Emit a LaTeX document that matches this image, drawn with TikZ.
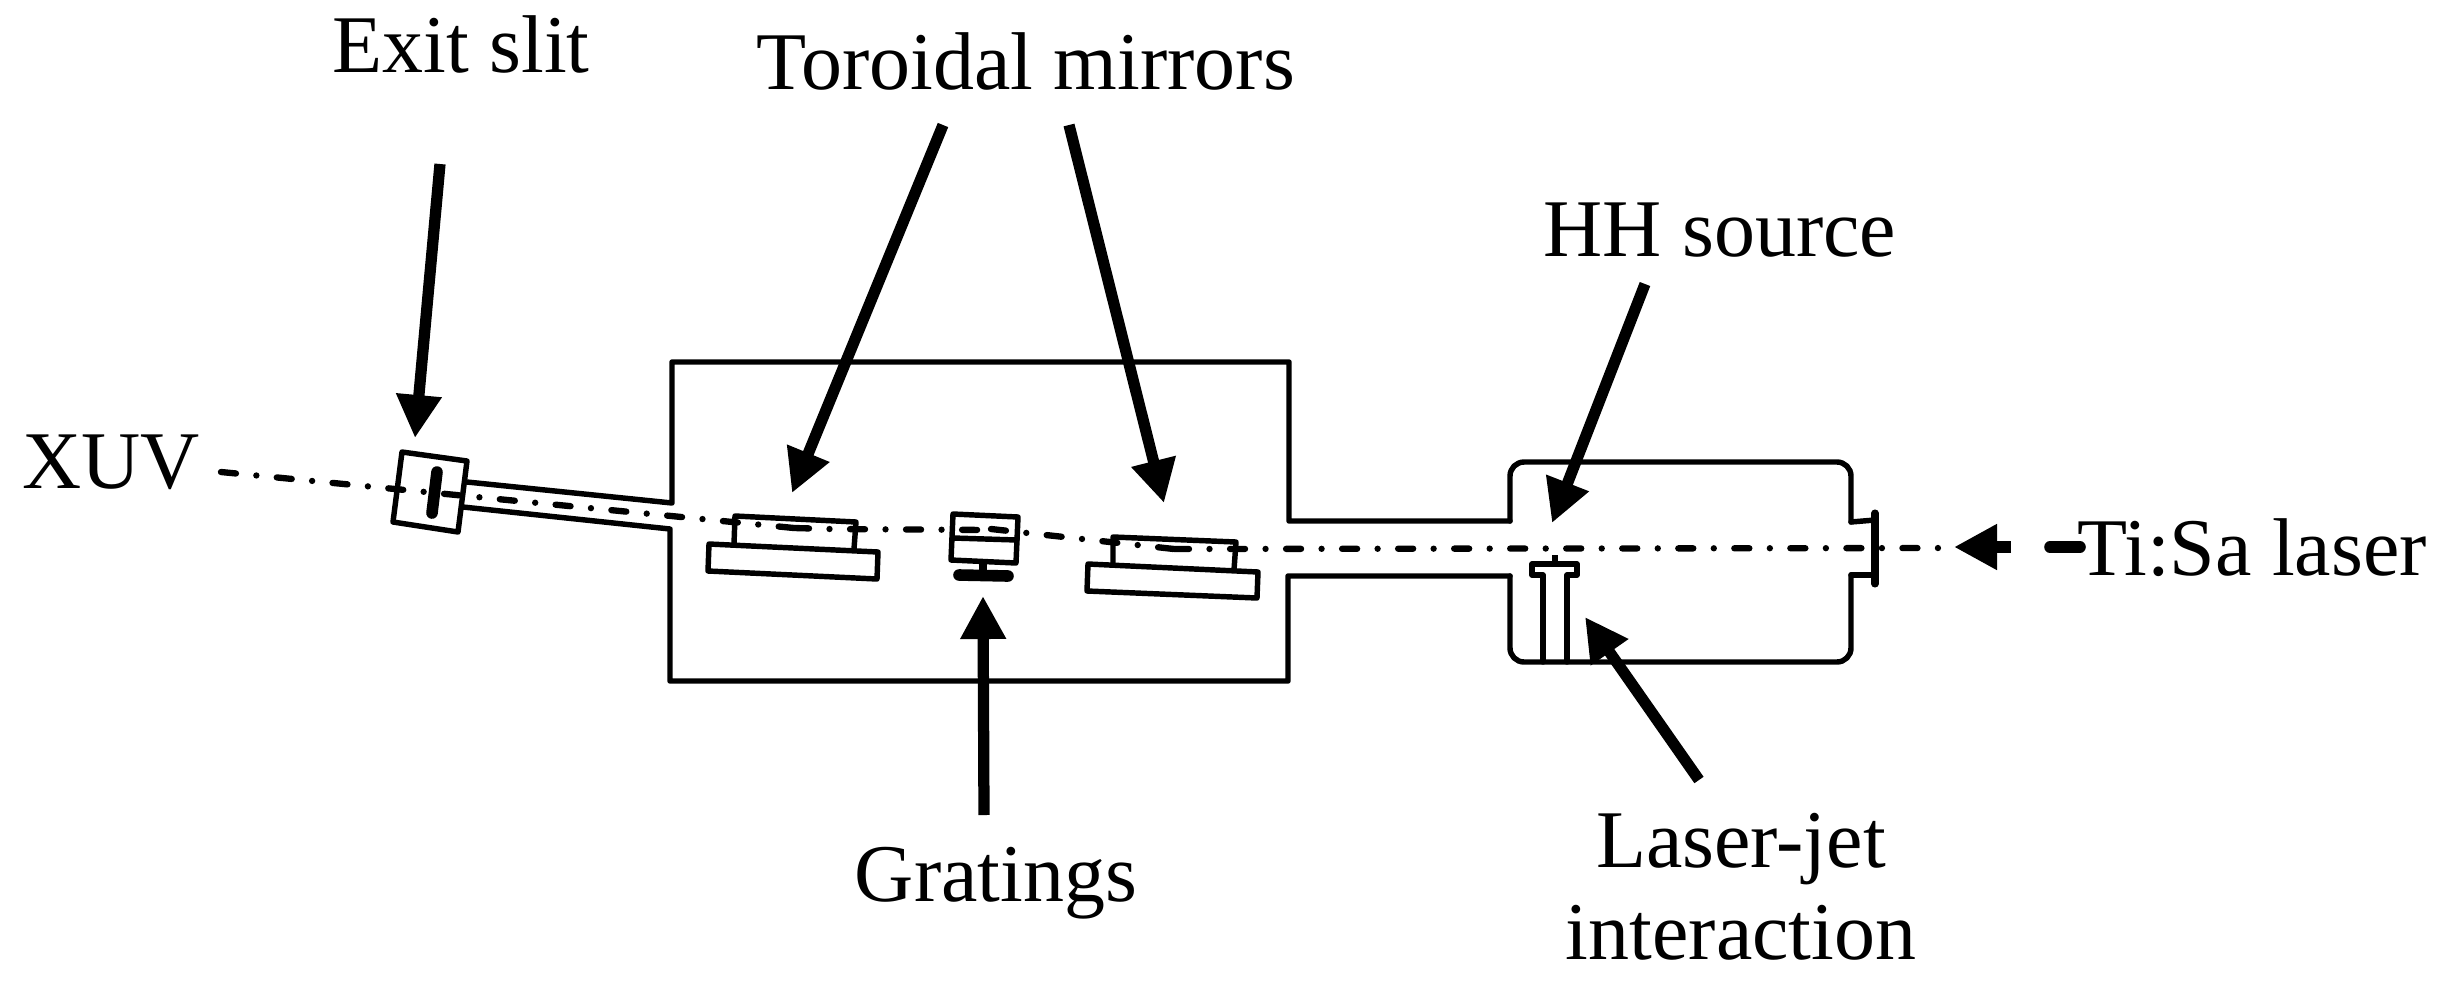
\documentclass[tikz,border=0pt]{standalone}
\usepackage{fontspec}
\setmainfont{Liberation Serif}
\usetikzlibrary{arrows.meta}
\tikzset{
  wall/.style={line width=1.55pt, line join=round, line cap=round},
  heavy/.style={line width=3.3pt, line cap=round},
  callout/.style={-{Triangle[length=0.43cm,width=0.43cm]}, line width=3.2pt},
  beam/.style={line width=1.8pt, line cap=round, dash pattern=on 0.15cm off 0.205cm on 0cm off 0.205cm},
  tag/.style={inner sep=0pt, anchor=base, font=\fontsize{23.3}{26}\selectfont},
}
\begin{document}
\begin{tikzpicture}[x=0.01cm, y=-0.01cm]
    \useasboundingbox (0,0) rectangle (2444,987);
    % Exit slit
    \draw[wall] (402,452) -- (467,461) -- (458,532) -- (393,522) -- cycle;
    \draw[heavy] (437,472) -- (432,513);
    % Tube
    \draw[wall] (467,482) -- (672,503) -- (672,362) -- (1289,362) -- (1289,521) -- (1510,521);
    \draw[wall] (463,507) -- (670,529) -- (670,681) -- (1288,681) -- (1288,576) -- (1510,576);
    % Source chamber
    \draw[wall, rounded corners=0.14cm] (1510,521) -- (1510,462) -- (1851,462) -- (1851,522);
    \draw[wall, rounded corners=0.14cm] (1510,576) -- (1510,662) -- (1851,662) -- (1851,575);
    \draw[wall] (1851,522) -- (1875,520);
    \draw[wall] (1851,575) -- (1875,575);
    \draw[line width=2pt, line cap=round] (1875,513) -- (1875,584);
    % Jet
    \draw[wall] (1543,662) -- (1543,575) -- (1532,575) -- (1532,564) -- (1577,564) -- (1577,575) -- (1567,575) -- (1567,662);
    \draw[line width=1.9pt] (1555,555) -- (1555,564);
    % Left mirror
    \draw[wall] (709,544) -- (878,552) -- (877,579) -- (708,571) -- cycle;
    \draw[wall] (734,544) -- (735,516) -- (856,522) -- (854,549);
    % Gratings
    \draw[wall] (953,514) -- (1018,517) -- (1016,563) -- (951,560) -- cycle;
    \draw[wall] (953,538) -- (1017,540);
    \draw[line width=2.4pt] (983,563) -- (983,572);
    \draw[heavy] (959,575) -- (1008,576);
    % Right mirror
    \draw[wall] (1088,564) -- (1258,572) -- (1257,598) -- (1087,591) -- cycle;
    \draw[wall] (1113,564) -- (1113,537) -- (1236,542) -- (1234,570);
    % Beam
    \draw[beam] (221,472) -- (794,528);
    \draw[beam] (794,528) -- (830,529) -- (990,530);
    \draw[beam] (991,529) -- (1174,549);
    \draw[beam] (1174,549) -- (1954,548);
    % Labels
    \node[tag] (slitLabel) at (461,72) {Exit slit};
    \node[tag] (toroidLabel) at (1026,89) {Toroidal mirrors};
    \node[tag] (sourceLabel) at (1720,256) {HH source};
    \node[tag] (xuvLabel) at (111,488) {XUV};
    \node[tag] (gratingLabel) at (996,901) {Gratings};
    \node[tag] (jetLabel) at (1741,867) {Laser-jet};
    \node[tag] (jetLabelB) at (1741,959) {interaction};
    \node[tag] (laserLabel) at (2252,575) {Ti:Sa laser};
    % Arrow ends
    \coordinate (slitTail) at (440,164);
    \coordinate (slitTip) at (415,438);
    \coordinate (mirrorATail) at (943,125);
    \coordinate (mirrorATip) at (792,493);
    \coordinate (mirrorBTail) at (1069,125);
    \coordinate (mirrorBTip) at (1164,503);
    \coordinate (gratingTail) at (984,815);
    \coordinate (gratingTip) at (983,596);
    \coordinate (sourceTail) at (1645,284);
    \coordinate (sourceTip) at (1552,523);
    \coordinate (jetTail) at (1699,780);
    \coordinate (jetTip) at (1585,617);
    \coordinate (laserTail) at (2011,547);
    \coordinate (laserTip) at (1954,547);
    \coordinate (laserDashA) at (2050,547);
    \coordinate (laserDashB) at (2080,547);
    % Arrows
    \draw[callout] (slitTail) -- (slitTip);
    \draw[callout] (mirrorATail) -- (mirrorATip);
    \draw[callout] (mirrorBTail) -- (mirrorBTip);
    \draw[callout] (gratingTail) -- (gratingTip);
    \draw[callout] (sourceTail) -- (sourceTip);
    \draw[callout] (jetTail) -- (jetTip);
    \draw[callout] (laserTail) -- (laserTip);
    \draw[heavy] (laserDashA) -- (laserDashB);
\end{tikzpicture}
\end{document}
